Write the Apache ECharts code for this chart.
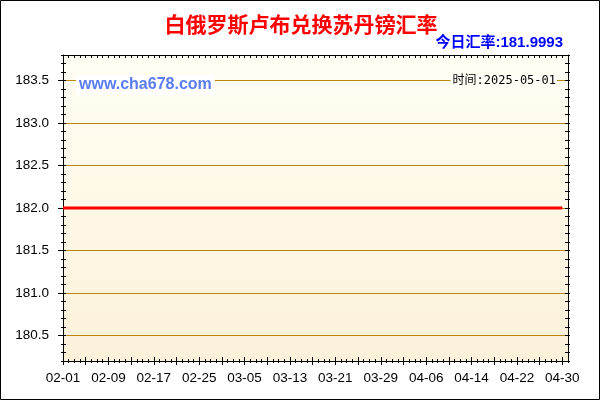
<!DOCTYPE html>
<html><head><meta charset="utf-8">
<script src="https://cdn.jsdelivr.net/npm/echarts@6/dist/echarts.min.js"></script>
<style>html,body{margin:0;padding:0;background:#fff}#c{width:600px;height:400px}</style>
</head><body><div id="c"></div>
<script>
const dates = [
 '02-01','02-02','02-03','02-04','02-05','02-06','02-07','02-08','02-09','02-10',
 '02-11','02-12','02-13','02-14','02-15','02-16','02-17','02-18','02-19','02-20',
 '02-21','02-22','02-23','02-24','02-25','02-26','02-27','02-28',
 '03-01','03-02','03-03','03-04','03-05','03-06','03-07','03-08','03-09','03-10',
 '03-11','03-12','03-13','03-14','03-15','03-16','03-17','03-18','03-19','03-20',
 '03-21','03-22','03-23','03-24','03-25','03-26','03-27','03-28','03-29','03-30','03-31',
 '04-01','04-02','04-03','04-04','04-05','04-06','04-07','04-08','04-09','04-10',
 '04-11','04-12','04-13','04-14','04-15','04-16','04-17','04-18','04-19','04-20',
 '04-21','04-22','04-23','04-24','04-25','04-26','04-27','04-28','04-29','04-30',
 '05-01'
];
const rates = [
 181.9993,181.9993,181.9993,181.9993,181.9993,181.9993,181.9993,181.9993,181.9993,181.9993,
 181.9993,181.9993,181.9993,181.9993,181.9993,181.9993,181.9993,181.9993,181.9993,181.9993,
 181.9993,181.9993,181.9993,181.9993,181.9993,181.9993,181.9993,181.9993,
 181.9993,181.9993,181.9993,181.9993,181.9993,181.9993,181.9993,181.9993,181.9993,181.9993,
 181.9993,181.9993,181.9993,181.9993,181.9993,181.9993,181.9993,181.9993,181.9993,181.9993,
 181.9993,181.9993,181.9993,181.9993,181.9993,181.9993,181.9993,181.9993,181.9993,181.9993,181.9993,
 181.9993,181.9993,181.9993,181.9993,181.9993,181.9993,181.9993,181.9993,181.9993,181.9993,
 181.9993,181.9993,181.9993,181.9993,181.9993,181.9993,181.9993,181.9993,181.9993,181.9993,
 181.9993,181.9993,181.9993,181.9993,181.9993,181.9993,181.9993,181.9993,181.9993,
 181.9993
];
const yMin = 180.2;
const yMax = 183.8;
const titleText = '白俄罗斯卢布兑换苏丹镑汇率';
const todayText = '今日汇率:181.9993';
const timeText = '时间:2025-05-01';
const siteText = 'www.cha678.com';

const FONT = '"Liberation Sans", Arial, "Noto Sans CJK SC", sans-serif';
const black = '#000';
const gold = '#b8860b';

function xTickAxis(opts) {
  return Object.assign({
    type: 'category', data: dates, boundaryGap: false, position: 'bottom',
    axisLine: { show: false, onZero: false },
    axisLabel: { show: false }, splitLine: { show: false }, z: 3
  }, opts);
}
function yTickAxis(opts) {
  return Object.assign({
    type: 'value', min: yMin, max: yMax, interval: 0.1, position: 'left',
    axisLine: { show: false, onZero: false },
    axisLabel: { show: false }, splitLine: { show: false }, z: 3
  }, opts);
}

const chart = echarts.init(document.getElementById('c'), null, { renderer: 'canvas' });
chart.setOption({
  animation: false,
  backgroundColor: '#fff',
  grid: {
    left: 63, right: 32, top: 55, bottom: 39, show: true, borderWidth: 0,
    backgroundColor: new echarts.graphic.LinearGradient(0, 0, 0, 1, [
      { offset: 0, color: '#fffef4' }, { offset: 1, color: '#fcf1d9' }
    ])
  },
  xAxis: [
    {
      type: 'category', data: dates, boundaryGap: false, position: 'bottom',
      axisLine: { onZero: false, lineStyle: { color: black, width: 1 } },
      axisTick: { interval: 3, length: 4, lineStyle: { color: black } },
      axisLabel: { interval: 7, margin: 11, fontSize: 13.5, color: black, fontFamily: FONT },
      splitLine: { show: false }, z: 3
    },
    xTickAxis({ axisTick: { show: true, interval: 3, inside: true, length: 4, lineStyle: { color: black } } }),
    xTickAxis({ axisTick: { show: true, interval: 0, inside: false, length: 2, lineStyle: { color: black } } }),
    xTickAxis({ axisTick: { show: true, interval: 0, inside: true, length: 2, lineStyle: { color: black } } }),
    xTickAxis({ position: 'top', axisLine: { show: true, onZero: false, lineStyle: { color: black } },
      axisTick: { show: true, interval: 0, inside: true, length: 3, lineStyle: { color: black } } })
  ],
  yAxis: [
    {
      type: 'value', min: yMin, max: yMax, splitNumber: 7, position: 'left',
      axisLine: { show: true, onZero: false, lineStyle: { color: black } },
      axisTick: { show: true, length: 5, lineStyle: { color: black } },
      axisLabel: { margin: 14, fontSize: 13.5, color: black, fontFamily: FONT,
        showMinLabel: false, showMaxLabel: false,
        formatter: v => v.toFixed(1) },
      splitLine: { show: true, lineStyle: { color: gold, width: 1 } },
      z: 1
    },
    yTickAxis({ axisTick: { show: true, inside: true, length: 3, lineStyle: { color: black } } }),
    yTickAxis({ axisTick: { show: true, inside: false, length: 2, lineStyle: { color: black } } }),
    yTickAxis({ position: 'right', axisLine: { show: true, onZero: false, lineStyle: { color: black } },
      axisTick: { show: true, inside: true, length: 3, lineStyle: { color: black } } }),
    yTickAxis({ position: 'right', axisTick: { show: true, inside: false, length: 2, lineStyle: { color: black } } })
  ],
  series: [{
    type: 'line', xAxisIndex: 0, yAxisIndex: 0, data: rates,
    symbol: 'none', lineStyle: { color: '#ff0000', width: 3 }, z: 5
  }],
  graphic: [
    { type: 'rect', z: 100, shape: { x: 0.5, y: 0.5, width: 599, height: 399 },
      style: { fill: 'none', stroke: black, lineWidth: 1 } },
    { type: 'text', z: 100, x: 301, y: 24,
      style: { text: titleText, textAlign: 'center', textVerticalAlign: 'middle',
        font: 'bold 21px "Noto Sans CJK SC", sans-serif', fill: '#ff0000' } },
    { type: 'text', z: 100, x: 563, y: 43,
      style: { text: todayText, textAlign: 'right', textVerticalAlign: 'middle',
        font: 'bold 15px "Liberation Sans", "Noto Sans CJK SC", sans-serif', fill: '#0000ff' } },
    { type: 'text', z: 100, x: 76, y: 85,
      style: { text: siteText, textAlign: 'left', textVerticalAlign: 'middle',
        font: 'bold 16px "Liberation Sans", Arial, sans-serif', fill: '#5b7cf0',
        backgroundColor: '#ffffff', padding: [2, 3, 2, 3] } },
    { type: 'text', z: 100, x: 557, y: 81,
      style: { text: timeText, textAlign: 'right', textVerticalAlign: 'middle',
        font: '12px "DejaVu Sans Mono", "Noto Sans CJK SC", monospace', fill: '#000',
        backgroundColor: '#fffef6', padding: [1, 1, 1, 2] } }
  ]
});
</script>
</body></html>
